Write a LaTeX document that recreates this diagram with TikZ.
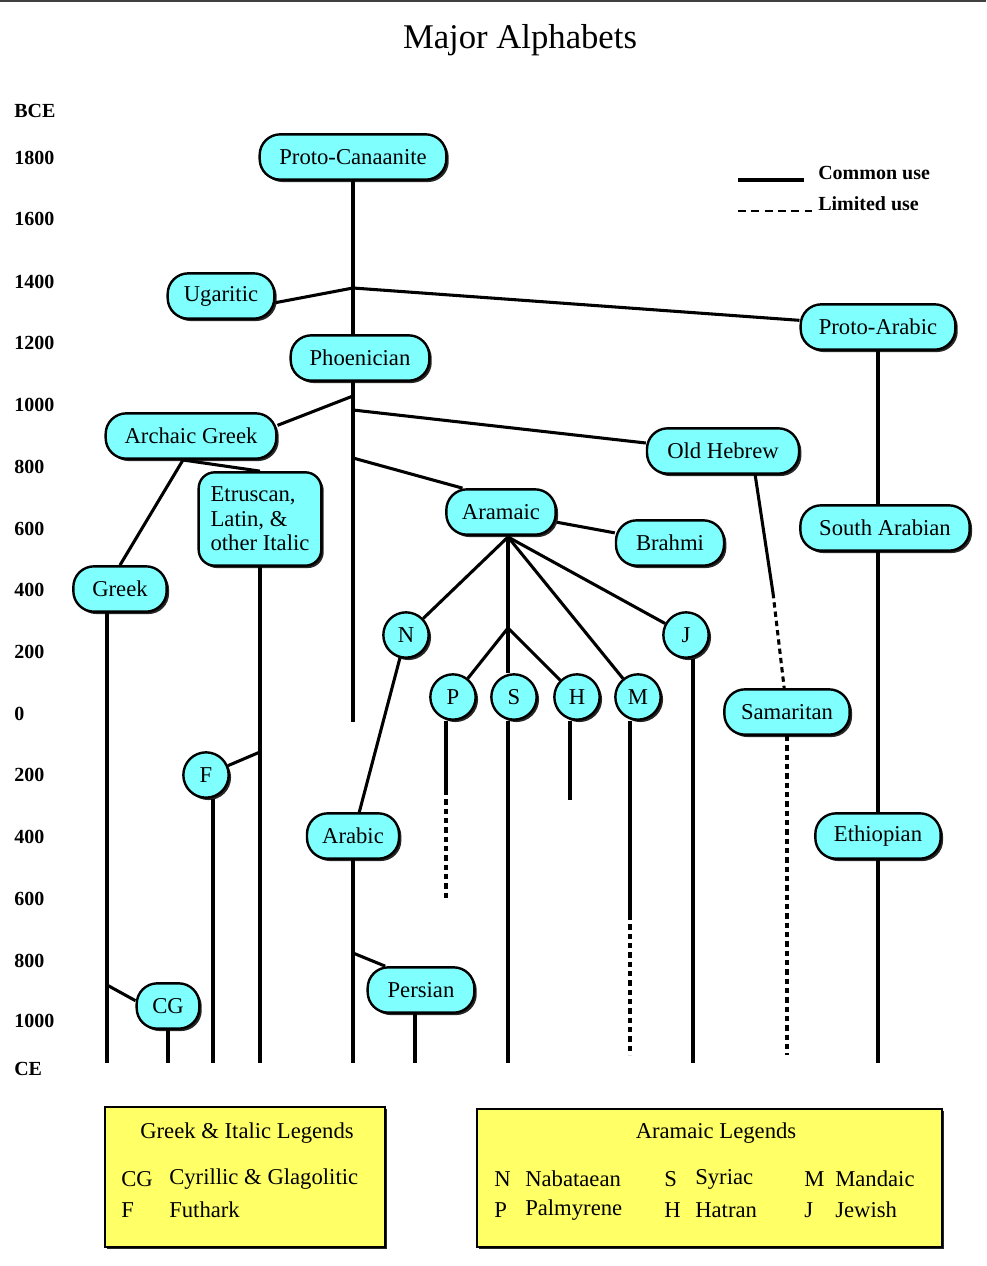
\documentclass[tikz,border=0pt]{standalone}
\usepackage{fontspec}
\setmainfont{Liberation Serif}
\usepackage{xcolor}
\usetikzlibrary{shadows, positioning}
\definecolor{alphacyan}{HTML}{80FFFF}
\definecolor{legendyellow}{HTML}{FFFF66}

\begin{document}
\begin{tikzpicture}[
  x=0.75pt, y=-0.75pt,
  alpha/.style={rectangle, draw=black, line width=1.8pt, fill=alphacyan, rounded corners=15.5pt, minimum height=34pt, inner sep=2pt, align=center, font=\fontsize{17}{18.5}\selectfont, drop shadow={shadow xshift=1.8pt, shadow yshift=-1.8pt, fill=black, opacity=0.85}},
  letter/.style={circle, draw=black, line width=1.8pt, fill=alphacyan, minimum size=34pt, inner sep=0pt, font=\fontsize{17}{18.5}\selectfont, drop shadow={shadow xshift=1.8pt, shadow yshift=-1.8pt, fill=black, opacity=0.85}},
  link/.style={line width=2.3pt},
  limited/.style={line width=2.3pt, dash pattern=on 4pt off 3pt},
  yearlabel/.style={anchor=west, inner sep=0pt, font=\bfseries\fontsize{15}{17}\selectfont},
  keytext/.style={anchor=west, inner sep=0pt, font=\bfseries\fontsize{15}{17}\selectfont},
  legendbox/.style={rectangle, draw=black, line width=1.8pt, fill=legendyellow, drop shadow={shadow xshift=1.5pt, shadow yshift=-1.5pt, fill=black, opacity=0.85}},
  legendtext/.style={inner sep=0pt, font=\fontsize{17}{18.5}\selectfont}
]
\useasboundingbox (0,0) rectangle (986,1266);
\draw[line width=1.5pt, black!75] (0,1) -- (986,1);

\node[font=\fontsize{26}{30}\selectfont] (title) at (520,40) {Major Alphabets};

\foreach \yr/\lab in {111/BCE, 158/1800, 219/1600, 282/1400, 343/1200, 405/1000, 467/800, 529/600, 590/400, 652/200, 714/0, 775/200, 837/400, 899/600, 961/800, 1021/1000, 1069/CE}
  \node[yearlabel] (yr\yr) at (14,\yr) {\lab};

\coordinate (commonA) at (738,180);
\coordinate (commonB) at (804,180);
\coordinate (limitedA) at (738,211);
\coordinate (limitedB) at (812,211);
\draw[line width=3pt] (commonA) -- (commonB);
\draw[line width=2.2pt, dash pattern=on 6pt off 4pt] (limitedA) -- (limitedB);
\node[keytext] (common) at (818,173) {Common use};
\node[keytext] (limited) at (818,204) {Limited use};

\node[alpha, minimum width=140pt] (protocanaanite) at (353,157) {Proto-Canaanite};
\node[alpha, minimum width=80pt] (ugaritic) at (221,296) {Ugaritic};
\node[alpha, minimum width=116pt] (protoarabic) at (878,327) {Proto-Arabic};
\node[alpha, minimum width=104pt] (phoenician) at (360,358) {Phoenician};
\node[alpha, minimum width=128pt] (archaic) at (191,436) {Archaic Greek};
\node[alpha, minimum width=114pt] (oldhebrew) at (723,451) {Old Hebrew};
\node[alpha, minimum width=92pt, minimum height=70pt, rounded corners=12pt, align=left] (etruscan) at (260,519) {Etruscan,\\Latin, \&\\other Italic};
\node[alpha, minimum width=82pt] (aramaic) at (501,512) {Aramaic};
\node[alpha, minimum width=81pt] (brahmi) at (670,543) {Brahmi};
\node[alpha, minimum width=127pt] (southarabian) at (885,528) {South Arabian};
\node[alpha, minimum width=70pt] (greek) at (120,589) {Greek};
\node[alpha, minimum width=94pt] (samaritan) at (787,712) {Samaritan};
\node[alpha, minimum width=69pt] (arabic) at (353,836) {Arabic};
\node[alpha, minimum width=94pt] (ethiopian) at (878,836) {Ethiopian};
\node[alpha, minimum width=80pt] (persian) at (421,990) {Persian};
\node[alpha, minimum width=47pt] (cg) at (168,1006) {CG};

\node[letter] (n) at (406,635) {N};
\node[letter] (j) at (686,635) {J};
\node[letter] (p) at (453,697) {P};
\node[letter] (s) at (514,697) {S};
\node[letter] (h) at (577,697) {H};
\node[letter] (m) at (638,697) {M};
\node[letter] (f) at (206,775) {F};

\coordinate (jUgaritic) at (353,288);
\coordinate (jGreek) at (353,396);
\coordinate (jHebrew) at (353,410);
\coordinate (jAramaic) at (353,458);
\coordinate (phoenicianEnd) at (353,722);
\coordinate (jArchaic) at (183,460);
\coordinate (greekEnd) at (107,1063);
\coordinate (jCG) at (107,985);
\coordinate (cgEnd) at (168,1063);
\coordinate (etruscanEnd) at (260,1063);
\coordinate (jF) at (260,752);
\coordinate (fEnd) at (213,1063);
\coordinate (jSplit) at (508,537);
\coordinate (jSyriac) at (508,628);
\coordinate (syriacEnd) at (508,1063);
\coordinate (arabicEnd) at (353,1063);
\coordinate (jPersian) at (353,953);
\coordinate (persianEnd) at (415,1063);
\coordinate (pSolid) at (446,790);
\coordinate (pEnd) at (446,898);
\coordinate (hEnd) at (570,800);
\coordinate (mSolid) at (630,915);
\coordinate (mEnd) at (630,1055);
\coordinate (jEnd) at (693,1063);
\coordinate (hebrewStart) at (755,474);
\coordinate (hebrewSolid) at (773,593);
\coordinate (samaritanEnd) at (787,1055);
\coordinate (ethiopianEnd) at (878,1063);

\draw[link] (protocanaanite.south) -- (jUgaritic);
\draw[link] (jUgaritic) -- ([yshift=-5pt]ugaritic.east);
\draw[link] (jUgaritic) -- ([yshift=5pt]protoarabic.west);
\draw[link] (jUgaritic) -- (jUgaritic |- phoenician.north);
\draw[link] (jUgaritic |- phoenician.south) -- (phoenicianEnd);
\draw[link] (jGreek) -- ([yshift=8pt]archaic.east);
\draw[link] (jHebrew) -- ([yshift=6pt]oldhebrew.west);
\draw[link] (jAramaic) -- ([xshift=13pt]aramaic.north west);
\draw[link] (jArchaic) -- (greek.north);
\draw[link] (jArchaic) -- (etruscan.north);
\draw[link] (greekEnd |- greek.south) -- (greekEnd);
\draw[link] (jCG) -- ([yshift=4pt]cg.west);
\draw[link] (cg.south) -- (cgEnd);
\draw[link] (etruscan.south) -- (etruscanEnd);
\draw[link] (f) -- (jF);
\draw[link] (fEnd |- f.south) -- (fEnd);
\draw[link] (aramaic) -- (brahmi);
\draw[link] (jSplit) -- (n);
\draw[link] (jSplit) -- (j);
\draw[link] (jSplit) -- (m);
\draw[link] (jSplit) -- (jSyriac);
\draw[link] (jSyriac) -- (p);
\draw[link] (jSyriac) -- (h);
\draw[link] (jSyriac) -- (jSyriac |- s.north);
\draw[link] (syriacEnd |- s.south) -- (syriacEnd);
\draw[link] (n) -- (arabic);
\draw[link] (arabic.south) -- (arabicEnd);
\draw[link] (jPersian) -- ([xshift=14pt]persian.north west);
\draw[link] (persianEnd |- persian.south) -- (persianEnd);
\draw[link] (pSolid |- p.south) -- (pSolid);
\draw[limited] (pSolid) -- (pEnd);
\draw[link] (hEnd |- h.south) -- (hEnd);
\draw[link] (mSolid |- m.south) -- (mSolid);
\draw[limited] (mSolid) -- (mEnd);
\draw[link] (jEnd |- j.south) -- (jEnd);
\draw[link] (hebrewStart) -- (hebrewSolid);
\draw[limited] (hebrewSolid) -- (samaritan);
\draw[limited] (samaritan.south) -- (samaritanEnd);
\draw[link] (protoarabic.south) -- (protoarabic.south |- southarabian.north);
\draw[link] (ethiopian.north |- southarabian.south) -- (ethiopian.north);
\draw[link] (ethiopian.south) -- (ethiopianEnd);

\node[legendbox, minimum width=210pt, minimum height=105pt] (greekleg) at (245,1177) {};
\node[legendtext] (greeklegtitle) at (247,1133) {Greek \& Italic Legends};
\node[legendtext, anchor=west] (cgkey) at (121,1179) {CG};
\node[legendtext, anchor=west] (cgname) at (169,1179) {Cyrillic \& Glagolitic};
\node[legendtext, anchor=west] (fkey) at (121,1210) {F};
\node[legendtext, anchor=west] (fname) at (169,1210) {Futhark};

\node[legendbox, minimum width=349pt, minimum height=103.5pt] (aramleg) at (709.5,1178) {};
\node[legendtext] (aramlegtitle) at (716,1133) {Aramaic Legends};
\node[legendtext, anchor=west] (nkey) at (494,1179) {N};
\node[legendtext, anchor=west] (nname) at (525,1179) {Nabataean};
\node[legendtext, anchor=west] (pkey) at (494,1210) {P};
\node[legendtext, anchor=west] (pname) at (525,1210) {Palmyrene};
\node[legendtext, anchor=west] (skey) at (664,1179) {S};
\node[legendtext, anchor=west] (sname) at (695,1179) {Syriac};
\node[legendtext, anchor=west] (hkey) at (664,1210) {H};
\node[legendtext, anchor=west] (hname) at (695,1210) {Hatran};
\node[legendtext, anchor=west] (mkey) at (804,1179) {M};
\node[legendtext, anchor=west] (mname) at (835,1179) {Mandaic};
\node[legendtext, anchor=west] (jkey) at (804,1210) {J};
\node[legendtext, anchor=west] (jname) at (835,1210) {Jewish};
\end{tikzpicture}
\end{document}
